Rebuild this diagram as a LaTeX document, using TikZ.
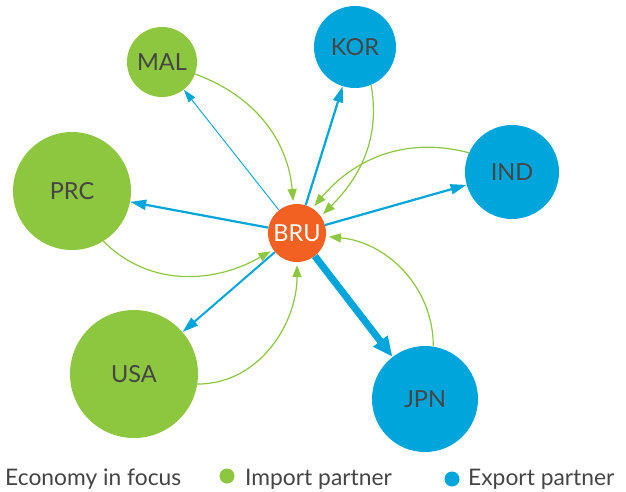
\documentclass[tikz,border=0pt]{standalone}
\usepackage{fontspec}
\setmainfont{Lato}
\usetikzlibrary{arrows.meta}
\definecolor{imp}{HTML}{8DC63F}
\definecolor{exp}{HTML}{00A6DB}
\definecolor{foc}{HTML}{F26122}
\definecolor{txt}{HTML}{454545}
\tikzset{
  econ/.style={circle, inner sep=0pt, text=txt, font=\fontsize{23.5}{25}\selectfont},
  impnode/.style={econ, fill=imp},
  expnode/.style={econ, fill=exp},
  focnode/.style={econ, fill=foc, text=white},
  imparrow/.style={draw=imp, line width=1.2pt, shorten >=3pt,
     -{Triangle[length=12pt,width=9pt]}},
  exparrow/.style={draw=exp, line width=2.2pt,
     -{Triangle[length=16pt,width=10pt]}},
  thinexp/.style={draw=exp, line width=0.9pt,
     -{Triangle[length=13pt,width=8pt]}},
  thickexp/.style={draw=exp, line width=7pt,
     -{Triangle[length=20pt,width=17pt]}},
  legend/.style={anchor=base west, inner sep=0pt, text=txt, font=\fontsize{22.8}{25}\selectfont},
  dot/.style={circle, inner sep=0pt, minimum size=15pt}
}
\begin{document}
\begin{tikzpicture}[x=1pt,y=-1pt]
\useasboundingbox (0,0) rectangle (626,491);
% nodes
\node[impnode, minimum size=70pt]  (MAL) at (162,62)  {MAL};
\node[expnode, minimum size=82pt]  (KOR) at (355,47)  {KOR};
\node[impnode, minimum size=118pt] (PRC) at (72,191)  {PRC};
\node[expnode, minimum size=94pt]  (IND) at (512,172) {IND};
\node[focnode, minimum size=58pt]  (BRU) at (297,233) {BRU};
\node[impnode, minimum size=128pt] (USA) at (134,374) {USA};
\node[expnode, minimum size=106pt] (JPN) at (425,399) {JPN};
% export arrows
\draw[thinexp]  (BRU) -- (MAL);
\draw[exparrow] (BRU) -- (KOR);
\draw[exparrow] (BRU) -- (IND);
\draw[exparrow] (BRU) -- (PRC);
\draw[exparrow, line width=2pt] (BRU) -- (USA);
\draw[thickexp] (BRU) -- (JPN);
% import arrows
\draw[imparrow] (MAL.-20) to[out=-20, in=95] (BRU.97);
\draw[imparrow] (KOR.-67) to[out=-80, in=45] (BRU.35);
\draw[imparrow] (IND.156) to[out=165, in=50] (BRU.58);
\draw[imparrow] (JPN.81) to[out=90, in=-5] (BRU.-7);
\draw[imparrow] (USA.-9) to[out=0, in=-90] (BRU.-90);
\draw[imparrow] (PRC.-58) to[out=-45, in=210] (BRU.215);
% legend
\node[legend] (l1) at (5,485) {Economy in focus};
\node[dot, fill=imp] (d1) at (227,476) {};
\node[legend] (l2) at (245,485) {Import partner};
\node[dot, fill=exp] (d2) at (452,479) {};
\node[legend] (l3) at (468,485) {Export partner};
\end{tikzpicture}
\end{document}
